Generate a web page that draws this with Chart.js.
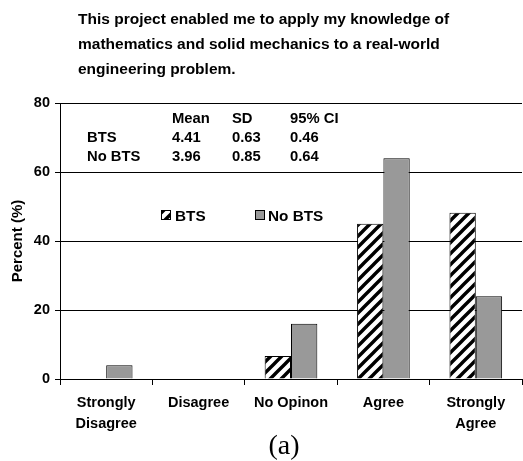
<!DOCTYPE html>
<html>
<head>
<meta charset="utf-8">
<script src="https://cdn.jsdelivr.net/npm/chart.js@4.4.0/dist/chart.umd.min.js"></script>
<style>
  html, body { margin: 0; padding: 0; background: #fff; }
  #wrap { width: 523px; height: 461px; }
</style>
</head>
<body>
<div id="wrap"><canvas id="chart" width="523" height="461"></canvas></div>
<script>
const categories = [['Strongly', 'Disagree'], 'Disagree', 'No Opinon', 'Agree', ['Strongly', 'Agree']]
const btsValues = [0, 0, 6.7, 45, 48.2]
const noBtsValues = [4, 0, 16, 64, 24]
const yTicks = [0, 20, 40, 60, 80]

const titleLines = [
    'This project enabled me to apply my knowledge of',
    'mathematics and solid mechanics to a real-world',
    'engineering problem.'
]
const statHeader = ['', 'Mean', 'SD', '95% CI']
const statRows = [
    ['BTS', '4.41', '0.63', '0.46'],
    ['No BTS', '3.96', '0.85', '0.64']
]

const FONT = '"Liberation Sans", Arial, sans-serif'

// diagonal hatch for the BTS bars
function makeHatch() {
    const s = 11
    const c = document.createElement('canvas')
    c.width = s
    c.height = s
    const g = c.getContext('2d')
    g.fillStyle = '#fff'
    g.fillRect(0, 0, s, s)
    g.strokeStyle = '#000'
    g.lineWidth = 3.4
    g.beginPath()
    g.moveTo(-2, s + 2); g.lineTo(s + 2, -2)
    g.moveTo(-2 - s, s + 2); g.lineTo(2, -2)
    g.moveTo(s - 2, s + 2); g.lineTo(2 * s + 2, -2)
    g.stroke()
    return g.createPattern(c, 'repeat')
}
const hatch = makeHatch()

const extras = {
    id: 'extras',
    afterDraw(chart) {
        const ctx = chart.ctx
        ctx.save()
        ctx.fillStyle = '#000'
        ctx.textBaseline = 'alphabetic'
        ctx.textAlign = 'left'

        ctx.font = 'bold 15.5px ' + FONT
        titleLines.forEach((t, i) => ctx.fillText(t, 78, 23.5 + i * 25))

        ctx.font = 'bold 14.8px ' + FONT
        const colX = [87, 172, 232, 290]
        statHeader.forEach((t, i) => ctx.fillText(t, colX[i], 122.5))
        statRows.forEach((row, r) => {
            row.forEach((t, i) => ctx.fillText(t, colX[i], 142 + r * 19.3))
        })

        // legend
        ctx.fillStyle = hatch
        ctx.fillRect(162, 211, 8, 8)
        ctx.strokeStyle = '#000'
        ctx.lineWidth = 1
        ctx.strokeRect(161.5, 210.5, 9, 9)
        ctx.fillStyle = '#999'
        ctx.fillRect(256, 211, 8, 8)
        ctx.strokeRect(255.5, 210.5, 9, 9)
        ctx.fillStyle = '#000'
        ctx.font = 'bold 15.3px ' + FONT
        ctx.fillText('BTS', 175, 220.5)
        ctx.fillText('No BTS', 268, 220.5)

        ctx.font = '28px "Liberation Serif", "Times New Roman", serif'
        ctx.textAlign = 'center'
        ctx.fillText('(a)', 284, 454)
        ctx.restore()
    }
}

const ctx = document.getElementById('chart')
const chart = new Chart(ctx, {
    type: 'bar',
    data: {
        labels: categories,
        datasets: [{
            label: 'BTS',
            data: btsValues,
            backgroundColor: hatch,
            borderColor: '#000',
            borderWidth: 1,
            borderSkipped: 'bottom'
        }, {
            label: 'No BTS',
            data: noBtsValues,
            backgroundColor: '#999999',
            borderColor: '#000',
            borderWidth: 1,
            borderSkipped: 'bottom'
        }]
    },
    options: {
        responsive: false,
        animation: false,
        layout: { padding: { top: 103, left: 0, right: 1, bottom: 0 } },
        plugins: {
            legend: { display: false },
            tooltip: { enabled: false }
        },
        datasets: {
            bar: { barPercentage: 1, categoryPercentage: 0.57 }
        },
        scales: {
            x: {
                grid: {
                    offset: true,
                    drawOnChartArea: false,
                    color: '#000',
                    tickLength: 6
                },
                border: { color: '#000' },
                ticks: {
                    color: '#000',
                    font: { family: FONT, size: 14.5, weight: 'bold', lineHeight: 1.45 },
                    padding: 7,
                    maxRotation: 0,
                    autoSkip: false
                },
                afterFit(scale) { scale.height = 82 }
            },
            y: {
                min: 0,
                max: 80,
                afterBuildTicks(scale) { scale.ticks = yTicks.map(v => ({ value: v })) },
                grid: { color: '#000', tickLength: 5 },
                border: { color: '#000' },
                ticks: {
                    color: '#000',
                    font: { family: FONT, size: 14.5, weight: 'bold' },
                    padding: 5
                },
                title: {
                    display: true,
                    text: 'Percent (%)',
                    color: '#000',
                    font: { family: FONT, size: 15, weight: 'bold' },
                    padding: { top: 9, bottom: 0 }
                },
                afterFit(scale) { scale.width = 60 }
            }
        }
    },
    plugins: [extras]
})
</script>
</body>
</html>
